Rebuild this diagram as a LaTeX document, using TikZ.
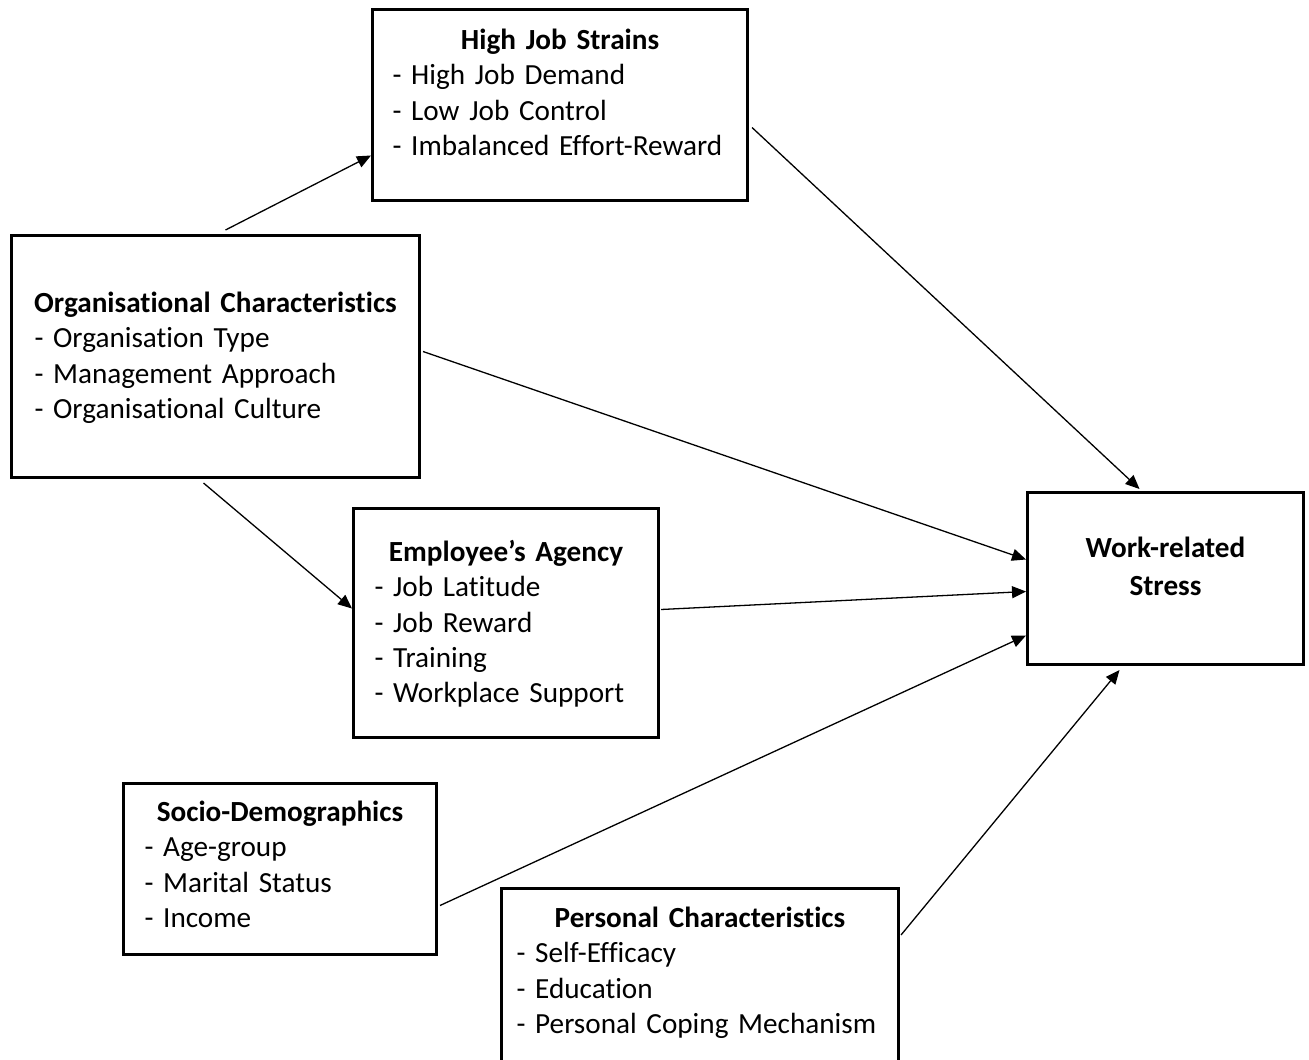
\documentclass[tikz,border=0pt]{standalone}
\usepackage{fontspec}
\setmainfont{Carlito}[Ligatures={TeX,NoCommon}]
\usetikzlibrary{arrows.meta}
\newcommand{\boxhead}[1]{\makebox[\linewidth]{\bfseries #1}}

\begin{document}
\begin{tikzpicture}[x=0.5pt, y=-0.5pt,
  box/.style={draw, line width=1.5pt, anchor=north west, inner ysep=0pt, align=left,
    font=\fontsize{14.6}{17.65}\selectfont},
  link/.style={line width=0.65pt, -{Triangle[length=7pt,width=6pt]}}]
\useasboundingbox[fill=white] (0,0) rectangle (1309,1059);
\node[box, inner xsep=10pt, text width=167.5pt, text height=20pt, text depth=75.5pt] (H) at (371,8)
  {\boxhead{High Job Strains}\\- High Job Demand\\- Low Job Control\\- Imbalanced Effort-Reward};
\node[box, inner xsep=11.5pt, text width=181pt, text height=38.5pt, text depth=82.5pt] (O) at (10,234)
  {\boxhead{Organisational Characteristics}\\- Organisation Type\\- Management Approach\\- Organisational Culture};
\node[box, inner xsep=10.5pt, text width=131.5pt, text height=26.5pt, text depth=88pt] (E) at (352,507)
  {\boxhead{Employee’s Agency}\\- Job Latitude\\- Job Reward\\- Training\\- Workplace Support};
\node[box, align=center, inner xsep=0pt, text width=138pt, text height=32.5pt, text depth=53.5pt] (W) at (1026,491)
  {\textbf{Work-related}\\[1.5pt]\textbf{Stress}};
\node[box, inner xsep=10.5pt, text width=135.5pt, text height=19pt, text depth=66.5pt] (D) at (122,782)
  {\boxhead{Socio-Demographics}\\- Age-group\\- Marital Status\\- Income};
\node[box, inner xsep=7.5pt, text width=183.5pt, text height=19.5pt, text depth=77pt] (P) at (500,887)
  {\boxhead{Personal Characteristics}\\- Self-Efficacy\\- Education\\- Personal Coping Mechanism};
\draw[link] ([xshift=5pt,yshift=2pt]O.north) -- ([yshift=-25.25pt]H.west);
\draw[link] ([xshift=1.5pt,yshift=-11.25pt]H.east) -- ([xshift=-13pt,yshift=1pt]W.north);
\draw[link] ([xshift=1pt,yshift=2.5pt]O.east) -- ([yshift=9.5pt]W.west);
\draw[link] ([xshift=-6pt,yshift=-2pt]O.south) -- ([yshift=7.25pt]E.west);
\draw[link] ([xshift=0.5pt,yshift=6.75pt]E.east) -- ([yshift=-6.5pt]W.west);
\draw[link] ([xshift=1pt,yshift=-18.25pt]D.east) -- ([yshift=-28.5pt]W.west);
\draw[link] ([xshift=0.5pt,yshift=-24pt]P.north east) -- ([xshift=-23pt,yshift=-2pt]W.south);
\end{tikzpicture}
\end{document}
